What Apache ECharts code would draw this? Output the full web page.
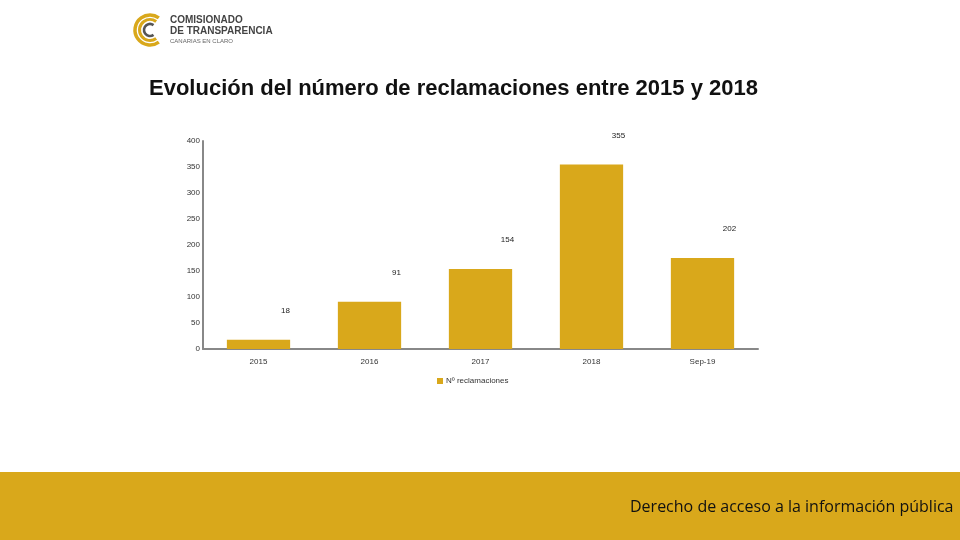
<!DOCTYPE html>
<html>
<head>
<meta charset="utf-8">
<script src="https://cdn.jsdelivr.net/npm/echarts@6/dist/echarts.min.js"></script>
<style>html,body{margin:0;padding:0;background:#fff;}#c{width:960px;height:540px;}</style>
</head>
<body>
<div id="c"></div>
<script>
var categories = ['2015', '2016', '2017', '2018', 'Sep-19'];
var barValues = [18, 91, 154, 355, 175];
var labelValues = ['18', '91', '154', '355', '202'];
var yTicks = [0, 50, 100, 150, 200, 250, 300, 350, 400];
var seriesName = 'Nº reclamaciones';
var titleText = 'Evolución del número de reclamaciones entre 2015 y 2018';
var footerText = 'Derecho de acceso a la información pública';

var gold = '#D9A81B';
var chart = echarts.init(document.getElementById('c'));

function ring(r, w, color, a0, a1) {
  return {
    type: 'arc',
    shape: { cx: 150, cy: 30, r: r, startAngle: a0, endAngle: a1, clockwise: true },
    style: { stroke: color, lineWidth: w, fill: null },
    silent: true
  };
}

chart.setOption({
  animation: false,
  title: {
    text: titleText,
    left: 144,
    top: 73,
    textStyle: { fontFamily: 'Liberation Sans', fontSize: 22, fontWeight: 'bold', color: '#111' }
  },
  legend: {
    data: [seriesName],
    left: 432,
    top: 372,
    itemWidth: 6,
    itemHeight: 6,
    icon: 'rect',
    itemGap: 4,
    textStyle: { fontFamily: 'Liberation Sans', fontSize: 8, color: '#333', padding: [0, 0, 0, -2] }
  },
  grid: { left: 203, right: 202, top: 141, bottom: 191, containLabel: false },
  xAxis: {
    type: 'category',
    data: categories,
    axisLine: { lineStyle: { color: '#888', width: 2 } },
    axisTick: { show: false },
    axisLabel: { fontFamily: 'Liberation Sans', fontSize: 8, color: '#333', margin: 9 }
  },
  yAxis: {
    type: 'value',
    min: yTicks[0],
    max: yTicks[yTicks.length - 1],
    interval: yTicks[1] - yTicks[0],
    axisLine: { show: true, lineStyle: { color: '#888', width: 2 } },
    axisTick: { show: false },
    splitLine: { show: false },
    axisLabel: { fontFamily: 'Liberation Sans', fontSize: 8, color: '#333', margin: 3 }
  },
  series: [{
    name: seriesName,
    type: 'bar',
    data: barValues,
    barWidth: '57%',
    itemStyle: { color: gold },
    label: {
      show: true,
      position: 'top',
      offset: [27, -20],
      fontFamily: 'Liberation Sans',
      fontSize: 8,
      color: '#222',
      formatter: function (p) { return labelValues[p.dataIndex]; }
    }
  }],
  graphic: [
    { type: 'rect', shape: { x: 0, y: 472, width: 960, height: 68 }, style: { fill: gold }, silent: true },
    { type: 'text', left: 630, top: 499, style: { text: footerText, fontFamily: 'Open Sans', fontSize: 16, fill: '#111', fontWeight: 'normal' } },
    ring(15, 3.5, gold, Math.PI * 0.3, Math.PI * 1.7),
    ring(10.5, 3, gold, Math.PI * 0.3, Math.PI * 1.7),
    ring(6, 2.6, '#555', Math.PI * 0.3, Math.PI * 1.7),
    { type: 'text', left: 170, top: 15, style: { text: 'COMISIONADO', fontFamily: 'Liberation Sans', fontSize: 10, fontWeight: 'bold', fill: '#444' } },
    { type: 'text', left: 170, top: 26, style: { text: 'DE TRANSPARENCIA', fontFamily: 'Liberation Sans', fontSize: 10, fontWeight: 'bold', fill: '#444' } },
    { type: 'text', left: 170, top: 38, style: { text: 'CANARIAS EN CLARO', fontFamily: 'Liberation Sans', fontSize: 6, fill: '#666' } }
  ]
});
</script>
</body>
</html>
